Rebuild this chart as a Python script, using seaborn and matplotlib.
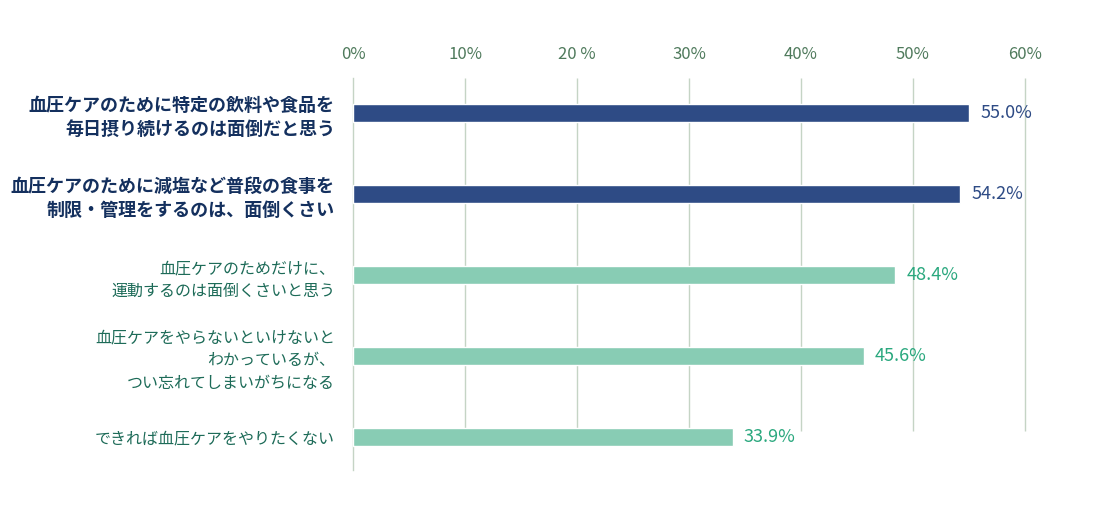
import matplotlib
matplotlib.use("Agg")
import matplotlib.pyplot as plt
import seaborn as sns
import pandas as pd

categories = [
    "血圧ケアのために特定の飲料や食品を\n毎日摂り続けるのは面倒だと思う",
    "血圧ケアのために減塩など普段の食事を\n制限・管理をするのは、面倒くさい",
    "血圧ケアのためだけに、\n運動するのは面倒くさいと思う",
    "血圧ケアをやらないといけないと\nわかっているが、\nつい忘れてしまいがちになる",
    "できれば血圧ケアをやりたくない",
]
values = [55.0, 54.2, 48.4, 45.6, 33.9]
groups = ["dark", "dark", "light", "light", "light"]
tick_values = [0, 10, 20, 30, 40, 50, 60]
tick_labels = ["0%", "10%", "20 %", "30%", "40%", "50%", "60%"]

bar_colors = {"dark": "#2e4b85", "light": "#88ccb4"}
value_colors = {"dark": "#2e4b85", "light": "#2aa87e"}
label_colors = {"dark": "#14305e", "light": "#1d6b58"}
label_weights = {"dark": "bold", "light": "normal"}

sns.set_theme(style="white")
plt.rcParams["font.family"] = ["Noto Sans CJK JP", "DejaVu Sans"]

df = pd.DataFrame({"cat": categories, "val": values, "grp": groups})

fig = plt.figure(figsize=(11.04, 5.19), dpi=100)
ax = fig.add_axes([353/1104, 1 - 470/519, (1025-353)/1104, (470-78)/519])

sns.barplot(data=df, x="val", y="cat", hue="grp", palette=bar_colors,
            dodge=False, width=0.222, legend=False, ax=ax, zorder=3, saturation=1)

ax.set_xlim(0, 60)
ax.set_ylim(4.407, -0.432)
grid_bottom = (431 - 113) / 81
ax.vlines(tick_values[1:], -0.432, grid_bottom, colors="#c5d4c5", linewidth=1,
          zorder=1, clip_on=False)

for s in ["top", "right", "bottom"]:
    ax.spines[s].set_visible(False)
ax.spines["left"].set_color("#c5d4c5")
ax.spines["left"].set_linewidth(1)

ax.xaxis.tick_top()
ax.set_xticks(tick_values)
ax.set_xticklabels(tick_labels, color="#4f7a5c", fontsize=12)
ax.tick_params(axis="x", length=0, pad=11)
ax.set_xlabel("")
ax.set_ylabel("")

ax.set_yticks(range(len(categories)))
ax.set_yticklabels(categories)
ax.tick_params(axis="y", length=0, pad=13)
for lab, g in zip(ax.get_yticklabels(), groups):
    lab.set_color(label_colors[g])
    lab.set_fontweight(label_weights[g])
    lab.set_fontsize(13 if g == "dark" else 11.5)
    lab.set_linespacing(1.3 if g == "dark" else 1.42)
    lab.set_multialignment("right")

for i, (v, g) in enumerate(zip(values, groups)):
    ax.text(v + 1.0, i, f"{v:.1f}%", va="center", ha="left",
            color=value_colors[g], fontsize=13)

fig.savefig("out.png", dpi=100)
